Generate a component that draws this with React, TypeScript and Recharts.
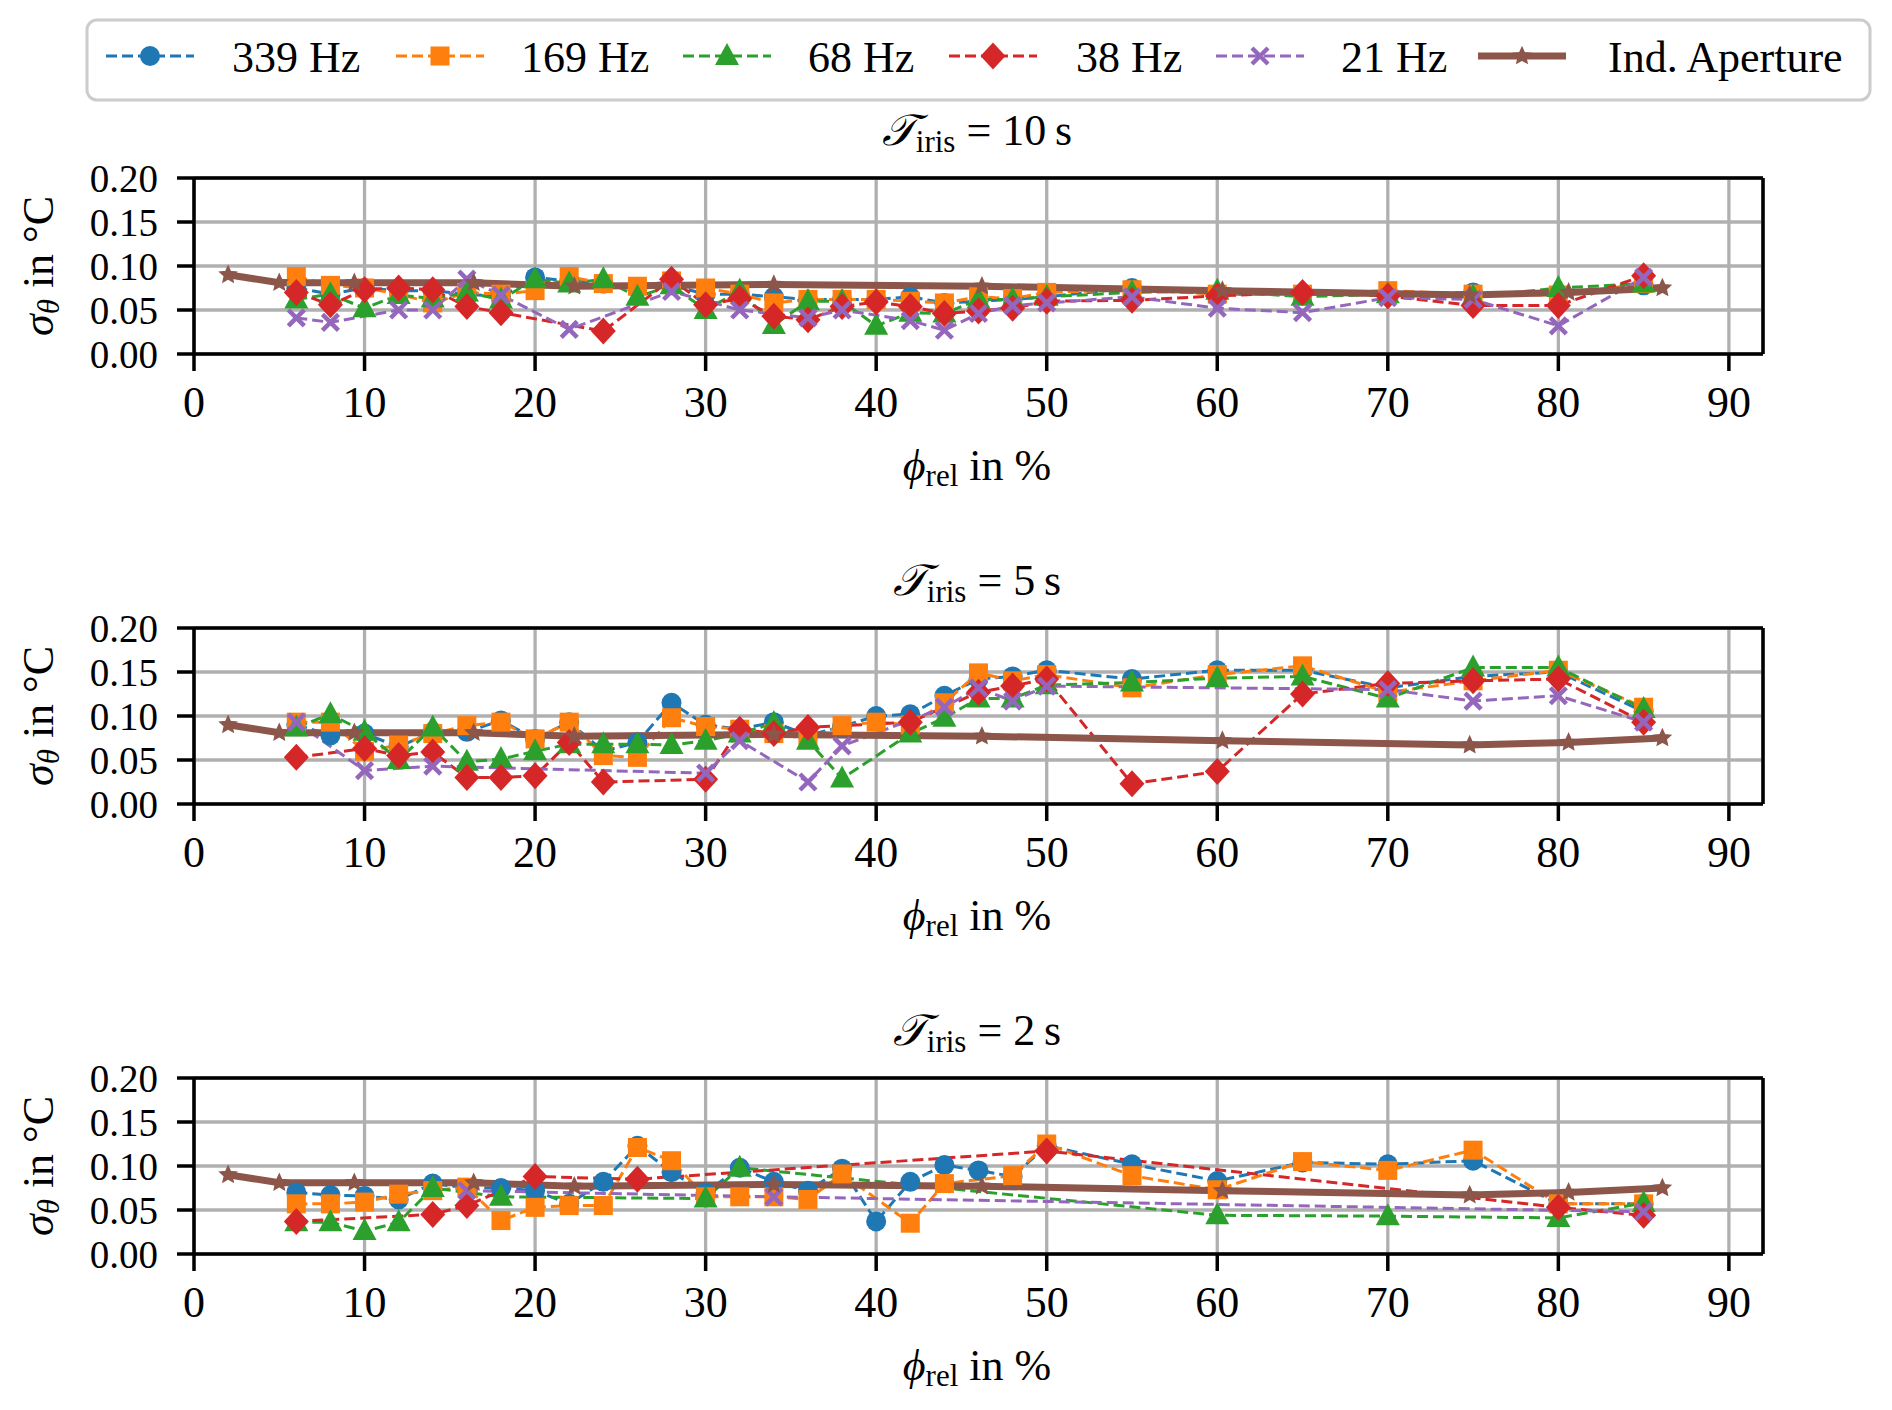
import React from 'react';
import { LineChart, Line, XAxis, YAxis, CartesianGrid, ReferenceLine } from 'recharts';

// ---------- data ----------
const phiAll = [6, 8, 10, 12, 14, 16, 18, 20, 22, 24, 26, 28, 30, 32, 34, 36, 38, 40, 42, 44, 46, 48, 50, 55, 60, 65, 70, 75, 80, 85];
const xTicks = [0, 10, 20, 30, 40, 50, 60, 70, 80, 90];
const yTicks = [0, 0.05, 0.1, 0.15, 0.2];
const panelTitles = ['10', '5', '2'];
const seriesNames = ['339 Hz', '169 Hz', '68 Hz', '38 Hz', '21 Hz', 'Ind. Aperture'];

// Ind. Aperture (same in every panel)
const apPhi = [2, 5, 9.4, 16.4, 22.3, 34, 46.2, 60.3, 74.8, 80.6, 86.1];
const apSigma = [0.09, 0.081, 0.081, 0.081, 0.077, 0.079, 0.077, 0.072, 0.067, 0.07, 0.075];

// T_iris = 10 s
const t10_339 = [0.075, 0.068, 0.075, 0.072, 0.072, 0.068, 0.065, 0.087, 0.083, 0.08, 0.075, 0.078, 0.068, 0.068, 0.065, 0.062, 0.062, 0.062, 0.065, 0.058, 0.06, 0.062, 0.065, 0.075, 0.068, 0.068, 0.068, 0.07, 0.068, 0.078];
const t10_169 = [0.088, 0.078, 0.075, 0.068, 0.058, 0.07, 0.068, 0.072, 0.088, 0.08, 0.077, 0.083, 0.075, 0.068, 0.058, 0.062, 0.062, 0.062, 0.06, 0.058, 0.065, 0.063, 0.07, 0.073, 0.068, 0.068, 0.072, 0.068, 0.067, 0.08];
const t10_68 = [0.062, 0.068, 0.052, 0.067, 0.063, 0.07, 0.062, 0.085, 0.08, 0.085, 0.065, 0.078, 0.05, 0.072, 0.033, 0.06, 0.06, 0.032, 0.047, 0.046, 0.062, 0.062, 0.065, 0.07, 0.072, 0.065, 0.068, 0.065, 0.075, 0.08];
const t10_38_phi = [6, 8, 10, 12, 14, 16, 18, 24, 28, 30, 32, 34, 36, 38, 40, 42, 44, 46, 48, 50, 55, 60, 65, 70, 75, 80, 85];
const t10_38 = [0.07, 0.056, 0.073, 0.075, 0.073, 0.054, 0.047, 0.026, 0.085, 0.056, 0.063, 0.043, 0.039, 0.054, 0.059, 0.054, 0.046, 0.049, 0.052, 0.06, 0.061, 0.066, 0.07, 0.066, 0.055, 0.055, 0.089];
const t10_21_phi = [6, 8, 12, 14, 16, 18, 22, 28, 32, 36, 38, 42, 44, 46, 48, 50, 55, 60, 65, 70, 75, 80, 85];
const t10_21 = [0.041, 0.036, 0.05, 0.05, 0.085, 0.067, 0.028, 0.071, 0.05, 0.041, 0.05, 0.038, 0.027, 0.046, 0.055, 0.058, 0.065, 0.052, 0.047, 0.064, 0.062, 0.032, 0.087];

// T_iris = 5 s
const t5_339 = [0.09, 0.078, 0.08, 0.065, 0.082, 0.082, 0.095, 0.074, 0.093, 0.06, 0.07, 0.115, 0.09, 0.085, 0.093, 0.078, 0.088, 0.1, 0.102, 0.123, 0.142, 0.145, 0.152, 0.142, 0.152, 0.152, 0.132, 0.145, 0.15, 0.105];
const t5_169 = [0.093, 0.093, 0.06, 0.067, 0.08, 0.089, 0.093, 0.074, 0.093, 0.055, 0.053, 0.098, 0.088, 0.085, 0.08, 0.074, 0.089, 0.093, 0.09, 0.115, 0.149, 0.14, 0.147, 0.132, 0.147, 0.157, 0.127, 0.14, 0.152, 0.11];
const t5_68_phi = [6, 8, 10, 12, 14, 16, 18, 20, 22, 24, 26, 28, 30, 32, 34, 36, 38, 42, 44, 46, 48, 50, 55, 60, 65, 70, 75, 80, 85];
const t5_68 = [0.087, 0.102, 0.082, 0.05, 0.087, 0.048, 0.051, 0.06, 0.068, 0.068, 0.068, 0.067, 0.072, 0.08, 0.092, 0.072, 0.029, 0.08, 0.098, 0.12, 0.12, 0.135, 0.138, 0.143, 0.145, 0.12, 0.155, 0.155, 0.108];
const t5_38_phi = [6, 10, 12, 14, 16, 18, 20, 22, 24, 30, 32, 34, 36, 42, 46, 48, 50, 55, 60, 65, 70, 75, 80, 85];
const t5_38 = [0.053, 0.063, 0.055, 0.059, 0.03, 0.03, 0.032, 0.07, 0.025, 0.028, 0.085, 0.08, 0.087, 0.093, 0.127, 0.134, 0.142, 0.023, 0.037, 0.125, 0.137, 0.14, 0.142, 0.093];
const t5_21_phi = [6, 10, 14, 30, 32, 36, 38, 44, 46, 48, 50, 70, 75, 80, 85];
const t5_21 = [0.093, 0.038, 0.043, 0.035, 0.072, 0.025, 0.066, 0.11, 0.132, 0.117, 0.134, 0.13, 0.117, 0.123, 0.093];

// T_iris = 2 s
const t2_339 = [0.07, 0.067, 0.066, 0.062, 0.08, 0.075, 0.075, 0.072, 0.057, 0.082, 0.123, 0.093, 0.07, 0.098, 0.082, 0.072, 0.097, 0.037, 0.082, 0.101, 0.095, 0.088, 0.123, 0.102, 0.083, 0.104, 0.102, 0.106, 0.057, 0.057];
const t2_169_phi = [6, 8, 10, 12, 14, 16, 18, 20, 22, 24, 26, 28, 30, 32, 34, 36, 38, 42, 44, 48, 50, 55, 60, 65, 70, 75, 80, 85];
const t2_169 = [0.057, 0.057, 0.059, 0.068, 0.072, 0.076, 0.038, 0.053, 0.055, 0.055, 0.121, 0.106, 0.065, 0.065, 0.065, 0.062, 0.091, 0.035, 0.08, 0.089, 0.125, 0.089, 0.073, 0.105, 0.095, 0.118, 0.057, 0.057];
const t2_68_phi = [6, 8, 10, 12, 14, 18, 30, 32, 60, 70, 80, 85];
const t2_68 = [0.036, 0.036, 0.026, 0.036, 0.075, 0.065, 0.063, 0.098, 0.044, 0.043, 0.041, 0.058];
const t2_38_phi = [6, 14, 16, 20, 26, 50, 80, 85];
const t2_38 = [0.037, 0.045, 0.055, 0.088, 0.085, 0.117, 0.053, 0.044];
const t2_21_phi = [16, 34, 85];
const t2_21 = [0.072, 0.065, 0.048];

// ---------- styling ----------
const COLORS = ['#1f77b4', '#ff7f0e', '#2ca02c', '#d62728', '#9467bd', '#8c564b'];
const SHAPES = ['circle', 'square', 'triangle', 'diamond', 'x', 'star'];
const FONT = '"Liberation Serif", "DejaVu Serif", serif';
const FS = 44;
const FS_Y = 39;

const zip = (xs: number[], ys: number[]) => xs.map((x, i) => ({ phi: x, sigma: ys[i] }));

function starPoints(cx: number, cy: number, ro: number, ri: number) {
  const pts: string[] = [];
  for (let i = 0; i < 10; i++) {
    const r = i % 2 === 0 ? ro : ri;
    const a = -Math.PI / 2 + (i * Math.PI) / 5;
    pts.push(`${cx + r * Math.cos(a)},${cy + r * Math.sin(a)}`);
  }
  return pts.join(' ');
}

function Marker({ shape, cx, cy, color }: { shape: string; cx: number; cy: number; color: string }) {
  if (cx == null || cy == null || isNaN(cx) || isNaN(cy)) return null;
  switch (shape) {
    case 'circle':
      return <circle cx={cx} cy={cy} r={10} fill={color} />;
    case 'square':
      return <rect x={cx - 9.5} y={cy - 9.5} width={19} height={19} fill={color} />;
    case 'triangle':
      return <polygon points={`${cx},${cy - 13} ${cx - 12},${cy + 9} ${cx + 12},${cy + 9}`} fill={color} />;
    case 'diamond':
      return <polygon points={`${cx},${cy - 13.5} ${cx + 12.5},${cy} ${cx},${cy + 13.5} ${cx - 12.5},${cy}`} fill={color} />;
    case 'x':
      return (
        <g stroke={color} strokeWidth={4.5} strokeLinecap="butt">
          <line x1={cx - 8} y1={cy - 8} x2={cx + 8} y2={cy + 8} />
          <line x1={cx - 8} y1={cy + 8} x2={cx + 8} y2={cy - 8} />
        </g>
      );
    case 'star':
      return <polygon points={starPoints(cx, cy, 8.5, 4)} fill={color} stroke={color} strokeWidth={1.5} />;
    default:
      return null;
  }
}

const panelSeries = [
  [zip(phiAll, t10_339), zip(phiAll, t10_169), zip(phiAll, t10_68), zip(t10_38_phi, t10_38), zip(t10_21_phi, t10_21), zip(apPhi, apSigma)],
  [zip(phiAll, t5_339), zip(phiAll, t5_169), zip(t5_68_phi, t5_68), zip(t5_38_phi, t5_38), zip(t5_21_phi, t5_21), zip(apPhi, apSigma)],
  [zip(phiAll, t2_339), zip(t2_169_phi, t2_169), zip(t2_68_phi, t2_68), zip(t2_38_phi, t2_38), zip(t2_21_phi, t2_21), zip(apPhi, apSigma)],
];

const PANEL_TOPS = [178, 628, 1078];
const PLOT_H = 176;
const MT = 60;
const XH = 84;

const tickStyleX = { fontFamily: FONT, fontSize: FS, fill: '#000' };
const tickStyleY = { fontFamily: FONT, fontSize: FS_Y, fill: '#000' };
const axisLineStyle = { stroke: '#000', strokeWidth: 3.5 };

function Panel({ top, data }: { top: number; data: { phi: number; sigma: number }[][] }) {
  const h = MT + PLOT_H + XH;
  return (
    <div style={{ position: 'absolute', left: 0, top: top - MT, width: 1892, height: h }}>
      <LineChart width={1892} height={h} margin={{ top: MT, right: 129, bottom: 0, left: 0 }}>
        <CartesianGrid stroke="#b0b0b0" strokeWidth={3.3} />
        <XAxis
          type="number"
          dataKey="phi"
          domain={[0, 92]}
          ticks={xTicks}
          interval={0}
          allowDataOverflow
          height={XH}
          tickSize={17}
          tickMargin={15}
          tick={tickStyleX}
          axisLine={axisLineStyle}
          tickLine={axisLineStyle}
        />
        <YAxis
          type="number"
          domain={[0, 0.2]}
          ticks={yTicks}
          interval={0}
          allowDataOverflow
          width={194}
          tickSize={17}
          tickMargin={19}
          tick={tickStyleY}
          tickFormatter={(v: number) => v.toFixed(2)}
          axisLine={axisLineStyle}
          tickLine={axisLineStyle}
        />
        <ReferenceLine y={0.2} stroke="#000" strokeWidth={3.5} />
        <ReferenceLine x={92} stroke="#000" strokeWidth={3.5} />
        {data.map((d, i) => (
          <Line
            key={seriesNames[i]}
            name={seriesNames[i]}
            data={d}
            dataKey="sigma"
            type="linear"
            stroke={COLORS[i]}
            strokeWidth={i === 5 ? 7 : 3}
            strokeDasharray={i === 5 ? undefined : '11 5'}
            strokeLinejoin="round"
            isAnimationActive={false}
            activeDot={false}
            dot={(p: any) => <Marker key={`${i}-${p.index}`} shape={SHAPES[i]} cx={p.cx} cy={p.cy} color={COLORS[i]} />}
          />
        ))}
      </LineChart>
    </div>
  );
}

const legendHandleX = [106, 396, 683, 949, 1216, 1478];
const legendTextX = [232, 521, 808, 1076, 1341, 1608];

function Overlay() {
  const sub = 31;
  return (
    <svg width={1892} height={1410} style={{ position: 'absolute', left: 0, top: 0, pointerEvents: 'none' }} fontFamily={FONT} fontSize={FS}>
      {/* legend */}
      <rect x={87} y={20} width={1783} height={80} rx={10} ry={10} fill="#fff" stroke="#cccccc" strokeWidth={3} />
      {seriesNames.map((n, i) => {
        const hx = legendHandleX[i];
        const y = 56;
        return (
          <g key={n}>
            <line x1={hx} y1={y} x2={hx + 88} y2={y} stroke={COLORS[i]} strokeWidth={i === 5 ? 7 : 3} strokeDasharray={i === 5 ? undefined : '11 5'} />
            <Marker shape={SHAPES[i]} cx={hx + 44} cy={y} color={COLORS[i]} />
            <text x={legendTextX[i]} y={72} fill="#000">{n}</text>
          </g>
        );
      })}
      {PANEL_TOPS.map((t, i) => {
        const bottom = t + PLOT_H;
        const cy = t + PLOT_H / 2;
        return (
          <g key={i}>
            <text x={977} y={t - 33.5} textAnchor="middle" fill="#000">
              <tspan fontStyle="italic">𝒯</tspan>
              <tspan fontSize={sub} dy={7}>iris</tspan>
              <tspan dy={-7}>{`\u00a0=\u00a0${panelTitles[i]}\u2009s`}</tspan>
            </text>
            <text x={977} y={bottom + 126} textAnchor="middle" fill="#000">
              <tspan fontStyle="italic">ϕ</tspan>
              <tspan fontSize={sub} dy={6}>rel</tspan>
              <tspan dy={-6}>{'\u00a0in %'}</tspan>
            </text>
            <text transform={`translate(53, ${cy}) rotate(-90)`} textAnchor="middle" fill="#000">
              <tspan fontStyle="italic">σ</tspan>
              <tspan fontSize={sub} dy={6} fontStyle="italic">θ</tspan>
              <tspan dy={-6}>{'\u00a0in °C'}</tspan>
            </text>
          </g>
        );
      })}
    </svg>
  );
}

export default function App() {
  return (
    <div style={{ position: 'absolute', left: 0, top: 0, width: 1892, height: 1410, background: '#fff', overflow: 'hidden' }}>
      {PANEL_TOPS.map((t, i) => (
        <Panel key={i} top={t} data={panelSeries[i]} />
      ))}
      <Overlay />
    </div>
  );
}
